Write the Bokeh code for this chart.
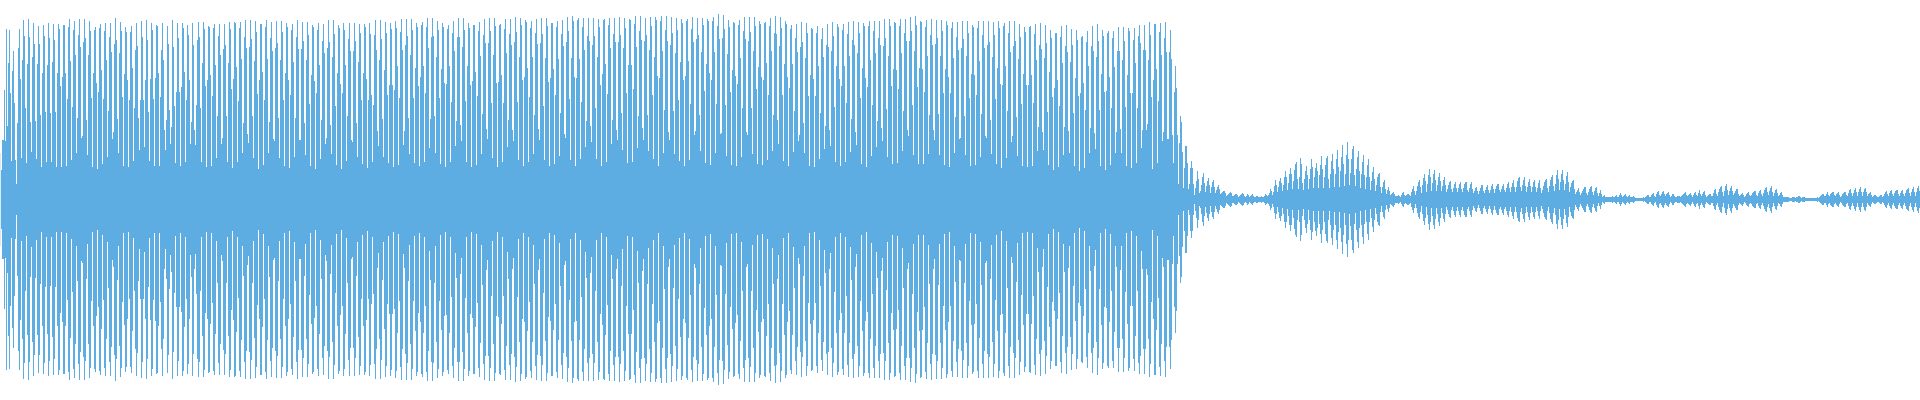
from bokeh.plotting import figure
from bokeh.models import ColumnDataSource, Range1d
from bokeh.embed import file_html
from bokeh.resources import INLINE

# Waveform amplitude per sample column
amp_0000 = [46,29,59,59,109,58,170,73,136,169,106,38,128,148,96,39,15,76,151,170,120,41,139,179,163,91,36,135,180,162,77,47,142,176,155,78,40,135,173,155,84,32,126,174,163,87,37,134,176,161,86,37,137,175,159,87,32,126,175,170,113,32,122,174,174,126,33,100,172,180,138,39,92,169,178,144,46,81,164,180,152,61,63,157,180,161,79,44,144,178,168,101,32,126,169,172,116,30,107,171,
175,129,35,100,168,176,139,42,88,162,176,147,60,67,155,181,159,80,46,146,177,168,102,33,125,172,167,119,32,99,167,173,131,38,91,149,176,153,81,49,99,178,162,99,52,119,179,159,87,38,120,176,169,100,33,121,174,173,126,33,102,149,176,139,69,49,79,173,155,89,55,72,179,152,93,36,107,176,161,107,33,112,176,171,127,37,99,174,164,119,55,77,176,154,69,54,94,159,177,162]
amp_0200 = [91,37,136,177,170,113,32,119,173,172,124,33,103,171,175,134,41,83,163,175,144,55,61,150,175,154,83,37,136,177,170,110,31,120,177,176,132,37,98,171,177,140,46,76,162,179,151,65,56,152,179,160,83,41,138,178,167,105,30,119,175,175,127,34,99,172,179,140,46,77,161,177,148,60,58,151,178,156,81,41,139,178,167,99,33,126,176,172,119,31,104,169,175,137,42,81,162,179,150,59,
59,150,177,158,76,44,139,177,164,95,33,124,174,172,118,30,106,169,176,134,40,79,158,175,146,55,61,151,179,157,74,45,142,179,165,93,34,126,174,171,115,30,106,176,169,134,38,83,160,176,148,59,57,148,176,158,76,42,137,175,166,99,35,126,175,172,120,31,99,176,165,104,37,94,164,179,149,68,53,139,179,160,80,42,129,177,166,104,36,114,176,170,114,32,109,178,171,133,34,101]
amp_0400 = [167,180,149,54,68,154,180,163,81,45,144,180,169,101,36,131,176,172,113,33,122,174,177,133,37,106,172,181,151,51,80,162,181,163,83,46,142,178,169,101,35,130,176,172,116,32,115,170,174,133,37,97,166,178,148,53,78,162,181,162,74,58,152,181,169,98,37,133,176,171,114,32,118,174,174,127,34,103,168,177,143,45,85,164,180,156,70,60,156,181,168,96,41,144,181,173,116,32,117,174,
175,124,37,96,170,180,146,52,79,165,180,154,69,58,157,182,167,97,39,142,181,174,119,33,122,179,177,131,37,102,171,178,142,45,84,166,180,155,70,59,156,181,165,93,39,141,181,173,117,33,121,176,176,130,35,104,172,178,140,43,86,165,179,153,65,61,157,182,168,100,39,141,183,178,122,33,121,179,181,140,40,97,172,181,149,52,78,163,181,158,73,57,154,181,163,91,40,142,180,172]
amp_0600 = [114,33,125,179,180,135,37,105,174,181,151,55,79,165,181,157,69,59,157,182,164,86,49,151,181,171,106,36,134,180,179,134,37,110,175,183,152,51,83,168,183,159,71,59,158,181,164,84,48,149,182,173,104,40,142,182,179,123,33,121,178,183,148,46,89,169,183,158,67,59,154,182,166,88,45,146,181,169,99,38,137,180,176,119,33,123,178,180,138,39,95,170,182,157,64,68,160,181,164,84,
48,147,181,174,108,36,135,180,178,126,34,119,178,182,147,46,95,173,185,160,65,66,161,184,170,94,43,145,179,172,107,34,129,177,176,123,33,115,174,179,141,42,91,168,182,160,67,64,158,182,167,91,45,148,182,173,110,35,132,178,175,122,34,119,176,177,136,39,104,173,181,148,48,84,166,183,165,79,55,153,182,171,104,38,135,178,175,122,33,111,170,174,135,47,88,161,175,147,58,64]
amp_0800 = [152,177,157,76,46,141,176,166,103,33,124,171,170,120,32,103,166,173,133,40,86,160,171,142,50,73,154,175,152,69,53,148,177,163,92,37,133,175,172,120,33,113,169,175,133,37,96,165,177,143,47,80,159,178,154,67,54,146,177,166,101,35,131,176,173,121,32,112,173,178,139,43,94,168,178,146,52,78,161,178,154,71,58,153,180,161,90,42,143,180,173,113,35,130,177,176,129,36,110,173,
180,146,48,88,166,180,158,69,63,158,182,168,94,44,148,183,174,112,35,131,178,177,130,35,107,172,179,143,45,84,164,180,154,69,59,155,179,161,85,44,143,179,168,106,34,130,178,174,122,32,106,171,177,141,46,82,162,177,149,60,61,151,178,160,83,44,143,178,166,101,33,125,174,172,124,34,104,171,178,138,42,85,164,178,151,63,61,154,178,157,79,45,142,177,164,100,35,131,178,171]
amp_1000 = [115,31,114,173,176,133,41,88,166,178,147,57,63,153,178,158,82,43,140,175,162,95,33,125,172,167,114,32,114,172,173,124,33,96,165,175,139,48,72,154,176,150,67,49,141,174,156,87,34,127,169,161,102,29,111,166,166,119,32,93,162,173,136,44,72,153,174,147,68,46,137,170,154,86,33,121,169,159,103,28,106,162,163,116,31,89,157,168,133,46,71,153,173,148,66,50,142,175,158,89,
33,125,169,163,107,29,108,166,168,122,34,91,161,168,132,46,67,148,172,148,70,46,139,172,158,92,33,124,171,168,106,31,106,159,171,136,36,91,163,174,156,51,69,149,174,149,69,75,139,177,164,102,30,119,175,175,130,36,98,167,176,144,58,67,161,177,147,60,60,147,169,140,64,36,107,133,111,64,15,56,83,77,47,11,31,53,53,36,10,15,31,38,31,15,4,11,18,28,20,6]
amp_1200 = [8,14,22,26,16,7,13,18,21,14,6,12,17,19,12,6,9,12,14,10,5,6,7,8,8,6,3,4,5,6,7,6,3,3,4,5,5,4,2,3,4,5,6,5,3,2,3,5,4,2,3,4,5,3,2,2,3,3,2,2,2,3,2,2,3,5,4,3,4,6,10,8,4,7,13,19,14,7,12,18,21,16,8,14,22,28,22,9,16,25,31,25,10,18,29,35,37,20,10,22,
41,35,16,9,20,28,33,24,10,20,30,40,32,11,22,31,36,28,11,24,34,43,30,11,22,34,41,43,20,11,25,38,45,30,12,25,40,49,32,12,28,42,54,35,13,25,44,57,40,14,26,40,50,53,24,13,30,42,48,28,11,25,37,44,24,10,22,34,40,22,9,18,27,32,20,8,14,22,25,26,12,6,12,17,19,10,5,9,12,8,4,5,6,7,5,3,3,3,4,3]
amp_1400 = [2,4,6,7,4,3,4,5,5,4,3,7,10,13,8,4,8,13,17,19,12,6,14,21,25,18,7,15,24,30,22,8,16,25,29,19,8,14,22,26,18,8,13,19,22,14,7,10,14,17,18,10,7,11,15,17,11,7,11,15,17,10,7,11,15,17,17,9,7,11,15,17,10,6,8,11,12,8,5,8,11,14,14,8,6,9,12,14,9,6,9,13,15,10,6,10,13,15,15,9,
7,10,13,15,9,7,11,15,17,11,7,12,16,19,12,7,12,18,21,22,12,8,14,19,22,13,7,12,17,20,13,7,12,17,19,12,7,11,16,19,11,6,9,13,17,19,20,11,7,13,19,22,24,13,8,15,24,29,20,9,17,25,29,19,9,15,23,27,17,7,12,16,18,19,10,5,7,9,11,7,4,6,8,10,12,12,6,4,7,10,12,13,7,4,8,11,12,6,3,6]
amp_1600 = [9,5,2,3,4,2,2,2,2,2,2,2,3,2,2,3,4,2,2,4,6,4,2,3,4,5,3,2,3,4,2,2,2,3,2,1,1,1,1,1,1,1,1,2,1,2,3,4,4,2,2,4,5,6,3,2,5,7,8,4,3,5,7,8,5,3,5,6,7,4,2,3,5,5,3,2,2,3,3,3,2,3,4,5,6,7,4,3,4,5,6,4,2,4,6,7,4,3,6,9,
5,3,5,7,8,4,2,3,4,5,5,3,3,6,9,10,5,3,7,10,12,13,7,3,8,13,15,9,4,8,11,13,8,4,6,8,10,10,5,3,4,5,6,4,2,3,5,6,7,4,3,4,6,7,8,8,4,3,6,8,9,5,3,6,9,11,12,7,4,8,11,13,7,3,6,9,10,6,3,4,6,7,4,2,2,2,2,2,2,1,1,1,2,2,2,1,2,2,3,3]
amp_1800 = [2,1,2,2,2,1,1,1,1,1,1,1,1,1,1,1,1,2,1,2,3,4,5,5,3,3,5,7,4,3,5,6,7,7,4,3,5,6,7,4,2,3,5,6,7,7,4,3,6,9,10,6,3,6,9,11,7,3,7,10,12,7,3,7,10,11,7,3,5,6,7,4,2,3,4,4,3,2,2,3,4,4,2,3,5,7,8,5,3,6,8,9,5,3,6,8,9,9,5,3,
6,8,9,5,3,6,9,10,11,6,3,7,10,12,7,3,7,11,13,8]

amplitude = amp_0000 + amp_0200 + amp_0400 + amp_0600 + amp_0800 + amp_1000 + amp_1200 + amp_1400 + amp_1600 + amp_1800
sample = list(range(len(amplitude)))

source = ColumnDataSource(dict(
    x=[s + 0.5 for s in sample],
    upper=amplitude,
    lower=[-(a + 1) for a in amplitude],
))

p = figure(width=1920, height=400, output_backend="svg", toolbar_location=None,
           x_range=Range1d(0.5, 1920.5), y_range=Range1d(-201.5, 198.5),
           min_border=0, min_border_left=0, min_border_right=0, min_border_top=0, min_border_bottom=0,
           background_fill_color="white", border_fill_color="white",
           styles={"position": "absolute", "left": "0px", "top": "0px"})
p.axis.visible = False
p.grid.visible = False
p.outline_line_color = None
p.vbar(x="x", top="upper", bottom="lower", width=1, source=source,
       fill_color="#5DADE2", fill_alpha=1.0, line_color=None)

open("out.html", "w").write(file_html(p, INLINE))
